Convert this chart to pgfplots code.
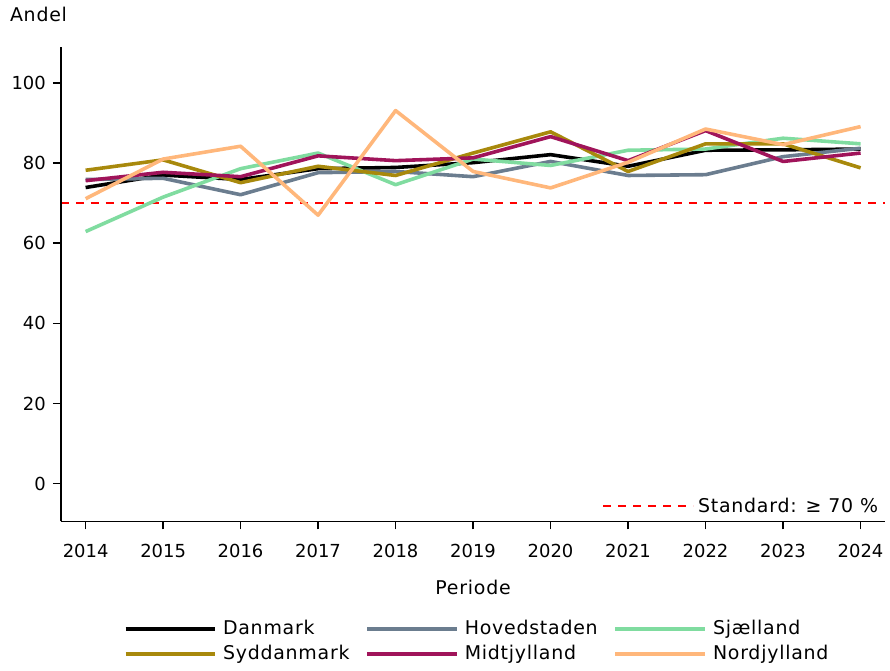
\documentclass[border=0pt]{standalone}
\usepackage{fontspec}
\setmainfont{DejaVu Sans}
\newfontfamily\widefont[LetterSpace=4]{DejaVu Sans}
\usepackage{pgfplots}
\pgfplotsset{compat=1.18}

\definecolor{cDanmark}{HTML}{000000}
\definecolor{cHoved}{HTML}{6B7D8F}
\definecolor{cSjael}{HTML}{80DCA0}
\definecolor{cSydd}{HTML}{A8890C}
\definecolor{cMidt}{HTML}{A0145A}
\definecolor{cNord}{HTML}{FFB77B}

\begin{document}
\begin{tikzpicture}
\pgfplotsset{
  common/.style={
    scale only axis,
    width=413.5pt, height=238pt,
    xmin=2013.68, xmax=2024.32,
    ymin=-9.45, ymax=109,
    font=\fontsize{9}{11}\selectfont,
    /pgf/number format/assume math mode=true,
  },
}
\newcommand{\txt}{\widefont\fontsize{9.5}{11}\selectfont}
% reference line with its own legend inside the plot
\begin{axis}[common,
  hide axis,
  legend style={at={(1,0)}, anchor=south east, xshift=1.5pt, yshift=-1pt,
    draw=none, fill=none, font=\txt},
  legend image code/.code={\draw[#1] (0pt,0pt) -- (45pt,0pt);},
]
\addplot[red, dashed, line width=0.9pt, dash pattern=on 4pt off 3.5pt] coordinates {(2013.68,70) (2024.32,70)};
\addlegendentry{Standard: ≥ 70 \%}
\end{axis}

\begin{axis}[common,
  name=ax,
  axis lines=left,
  axis line style={-, line width=0.8pt},
  tick align=outside,
  major tick length=4pt,
  tick style={black, line width=0.8pt},
  xtick={2014,...,2024},
  xticklabel style={/pgf/number format/1000 sep={}, yshift=-4pt},
  ytick={0,20,...,100},
  xlabel={Periode},
  xlabel style={font=\txt, yshift=-4pt},
  ylabel={Andel},
  ylabel style={font=\txt, rotate=-90, at={(rel axis cs:0,1)}, anchor=south west, xshift=-29pt, yshift=9pt},
  legend columns=3,
  legend cell align=left,
  legend style={at={(0.5,-0.19)}, anchor=north, xshift=2.5pt, draw=none, fill=none,
    font=\txt,
    /tikz/every odd column/.style={column sep=1pt},
    /tikz/every even column/.style={column sep=6pt},
    row sep=0pt},
  legend image code/.code={\draw[#1] (0pt,0pt) -- (45pt,0pt);},
  every axis plot/.append style={line width=1.8pt, line join=round},
]
\addplot[cDanmark] coordinates {(2014,73.9) (2015,77.0) (2016,75.9) (2017,78.6) (2018,78.9) (2019,80.1) (2020,82.1) (2021,79.2) (2022,83.2) (2023,83.3) (2024,83.5)};
\addlegendentry{Danmark}
\addplot[cHoved] coordinates {(2014,75.9) (2015,76.2) (2016,72.1) (2017,77.6) (2018,77.9) (2019,76.6) (2020,80.4) (2021,76.9) (2022,77.1) (2023,81.6) (2024,83.7)};
\addlegendentry{Hovedstaden}
\addplot[cSjael] coordinates {(2014,62.9) (2015,71.5) (2016,78.6) (2017,82.5) (2018,74.6) (2019,81.0) (2020,79.4) (2021,83.2) (2022,83.5) (2023,86.2) (2024,84.8)};
\addlegendentry{Sjælland}
\addplot[cSydd] coordinates {(2014,78.2) (2015,80.8) (2016,75.1) (2017,79.2) (2018,76.9) (2019,82.5) (2020,87.8) (2021,77.9) (2022,84.8) (2023,84.8) (2024,78.8)};
\addlegendentry{Syddanmark}
\addplot[cMidt] coordinates {(2014,75.6) (2015,77.7) (2016,76.6) (2017,81.8) (2018,80.6) (2019,81.3) (2020,86.6) (2021,80.6) (2022,88.1) (2023,80.4) (2024,82.5)};
\addlegendentry{Midtjylland}
\addplot[cNord] coordinates {(2014,71.1) (2015,81.0) (2016,84.2) (2017,67.0) (2018,93.1) (2019,77.9) (2020,73.8) (2021,80.2) (2022,88.5) (2023,84.6) (2024,89.1)};
\addlegendentry{Nordjylland}
\end{axis}
\path[use as bounding box] ([shift={(-30.5pt,-70.5pt)}]ax.south west) rectangle ([shift={(414.5pt,261.5pt)}]ax.south west);
\end{tikzpicture}
\end{document}
